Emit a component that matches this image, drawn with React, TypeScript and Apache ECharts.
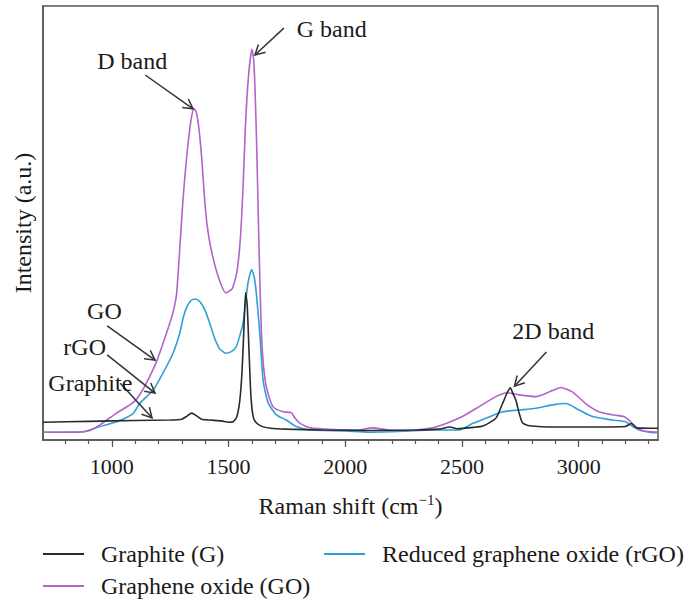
import React, { useEffect, useRef } from 'react';
import * as echarts from 'echarts';

const FONT = '"Liberation Serif", "Times New Roman", serif';

// Raman shift (cm^-1), intensity (a.u., 0-100 scale)
const graphite: [number, number][] = [
  [705, 4.1], [900, 4.3], [1100, 4.5], [1250, 4.6], [1300, 4.8], [1322, 5.5], [1342, 6.2],
  [1362, 5.6], [1385, 4.8], [1420, 4.6], [1470, 4.4], [1500, 4.1], [1520, 4.2], [1535, 5.3],
  [1548, 9], [1558, 16], [1566, 26], [1573, 34], [1580, 31], [1588, 20], [1596, 10],
  [1605, 5.5], [1615, 4.2], [1640, 3.2], [1680, 2.7], [1750, 2.5], [1900, 2.3], [2100, 2.2],
  [2300, 2.3], [2400, 2.5], [2447, 3.0], [2480, 2.6], [2550, 2.9], [2590, 3.2], [2645, 5.0],
  [2674, 8.4], [2695, 11], [2707, 12], [2720, 10.5], [2731, 9.2], [2745, 6.2], [2760, 3.9],
  [2790, 3.3], [2900, 3.0], [3100, 3.0], [3200, 3.1], [3225, 3.8], [3250, 2.8], [3340, 2.7],
];

const grapheneOxide: [number, number][] = [
  [705, 1.8], [850, 1.8], [906, 2.2], [949, 3.5], [1020, 6.2], [1091, 8.6], [1120, 10.5],
  [1148, 13.1], [1191, 18.0], [1234, 24.6], [1260, 29], [1277, 33.5], [1292, 45],
  [1303, 54], [1315, 62], [1328, 69], [1340, 74], [1352, 76.3], [1362, 75.5], [1373, 71.8],
  [1385, 65], [1396, 56.5], [1408, 49.5], [1425, 44], [1456, 37.6], [1488, 33.9],
  [1515, 34.8], [1535, 38.5], [1550, 46], [1562, 58], [1572, 72], [1585, 83.5], [1600, 90], [1607, 88],
  [1612, 83], [1619, 71], [1626, 55], [1629, 48], [1635, 35], [1641, 24.6], [1650, 16.9],
  [1662, 12.3], [1690, 7.7], [1733, 6.5], [1769, 6.3], [1785, 5], [1805, 3.9], [1850, 2.8],
  [1950, 2.4], [2050, 2.3], [2118, 2.8], [2200, 2.2], [2300, 2.3], [2373, 2.8], [2432, 3.8],
  [2502, 5.4], [2574, 7.7], [2645, 10.0], [2695, 10.9], [2745, 10.4], [2817, 10.0],
  [2888, 11.4], [2923, 12.1], [2973, 11.1], [3030, 8.4], [3087, 6.5], [3144, 5.8],
  [3194, 5.4], [3223, 4.2], [3259, 2.3], [3340, 1.8],
];

const reducedGO: [number, number][] = [
  [705, 1.8], [877, 1.9], [949, 3.1], [1020, 4.2], [1091, 6.1], [1120, 8.5], [1177, 11.5],
  [1219, 15.4], [1262, 20.0], [1291, 24.6], [1305, 28], [1320, 30.5], [1340, 32.2],
  [1360, 32.5], [1380, 31.7], [1400, 29.8], [1420, 26.8], [1440, 23.5], [1462, 21],
  [1488, 20.0], [1510, 20.3], [1533, 21.5], [1562, 26.9], [1583, 36.1], [1599, 39.3],
  [1610, 37.5], [1619, 33.8], [1634, 24.6], [1648, 13.8], [1670, 8.5], [1705, 5.8],
  [1747, 4.6], [1790, 3.1], [1850, 2.3], [2000, 2.1], [2100, 1.8], [2250, 2.0], [2368, 2.3],
  [2488, 2.3], [2545, 3.8], [2602, 5.0], [2674, 6.5], [2745, 6.9], [2817, 7.3], [2888, 8.1],
  [2945, 8.4], [3002, 6.9], [3059, 5.4], [3144, 4.6], [3201, 4.2], [3244, 2.7], [3316, 1.7],
  [3340, 1.7],
];

const majorTicks = [1000, 1500, 2000, 2500, 3000];
const minorTicks = [
  800, 900, 1000, 1100, 1200, 1300, 1400, 1500, 1600, 1700, 1800, 1900, 2000, 2100, 2200,
  2300, 2400, 2500, 2600, 2700, 2800, 2900, 3000, 3100, 3200, 3300,
];

const seriesNames = ['Graphite (G)', 'Graphene oxide (GO)', 'Reduced graphene oxide (rGO)'];
const seriesColors = ['#2a2a2a', '#b264c8', '#2f9fd8'];

// annotations: label, arrow start (x,y), arrow tip (x,y), text left/middle anchor (x,y)
const annotationLabels = ['D band', 'G band', '2D band', 'GO', 'rGO', 'Graphite'];
const annotationArrows: number[][] = [
  [1143, 84.1, 1348, 76.3],
  [1737, 94.9, 1613, 88.7],
  [2862, 20.3, 2725, 12.4],
  [980, 26.3, 1185, 18.4],
  [980, 19.6, 1185, 10.8],
  [1036, 13.1, 1172, 5.1],
];
const annotationTextPos: number[][] = [
  [937, 87.3],
  [1792, 94.7],
  [2716, 25.1],
  [894, 29.7],
  [792, 21.4],
  [728, 13.1],
];

export default function App() {
  const ref = useRef<HTMLDivElement>(null);

  useEffect(() => {
    if (!ref.current) return;
    const chart = echarts.init(ref.current, undefined, { renderer: 'svg' });
    const axisColor = '#555';
    const textColor = '#1a1a1a';

    const legendCommon = {
      orient: 'horizontal',
      icon: 'rect',
      itemWidth: 41,
      itemHeight: 2,
      padding: 0,
      selectedMode: false,
      textStyle: { fontFamily: FONT, fontSize: 24, color: textColor, padding: [0, 0, 0, 12] },
    };

    const annData = annotationArrows.map((a, i) => [...a, ...annotationTextPos[i]]);

    chart.setOption({
      animation: false,
      backgroundColor: '#fff',
      grid: {
        left: 43,
        right: 38,
        top: 6,
        bottom: 161,
        show: true,
        borderColor: axisColor,
        borderWidth: 1.5,
        backgroundColor: 'transparent',
      },
      legend: [
        { ...legendCommon, data: [seriesNames[0]], left: 43, top: 542 },
        { ...legendCommon, data: [seriesNames[1]], left: 43, top: 574 },
        { ...legendCommon, data: [seriesNames[2]], left: 324, top: 542 },
      ],
      xAxis: [
        {
          type: 'value',
          min: 705,
          max: 3340,
          position: 'bottom',
          axisLine: { show: true, lineStyle: { color: axisColor, width: 1.5 } },
          axisTick: { show: true, customValues: minorTicks, length: 4, lineStyle: { color: axisColor, width: 1.2 } },
          axisLabel: {
            customValues: majorTicks,
            formatter: (v: number) => String(v),
            margin: 15,
            fontFamily: FONT,
            fontSize: 22,
            color: textColor,
          },
          splitLine: { show: false },
          name: '{a|Raman shift (cm}{s|\u22121}{a|)}',
          nameLocation: 'middle',
          nameGap: 52,
          nameTextStyle: {
            rich: {
              a: { fontFamily: FONT, fontSize: 24, color: textColor, lineHeight: 28 },
              s: { fontFamily: FONT, fontSize: 15, color: textColor, lineHeight: 15, verticalAlign: 'top' },
            },
          },
        },
        {
          type: 'value',
          min: 705,
          max: 3340,
          position: 'bottom',
          axisLine: { show: false },
          axisTick: { show: true, customValues: majorTicks, length: 7, lineStyle: { color: axisColor, width: 1.2 } },
          axisLabel: { show: false },
          splitLine: { show: false },
        },
      ],
      yAxis: {
        type: 'value',
        min: 0,
        max: 100,
        axisLine: { show: true, lineStyle: { color: axisColor, width: 1.5 } },
        axisTick: { show: false },
        axisLabel: { show: false },
        splitLine: { show: false },
        name: 'Intensity (a.u.)',
        nameLocation: 'middle',
        nameGap: 8,
        nameTextStyle: { fontFamily: FONT, fontSize: 24, color: textColor },
      },
      series: [
        ...[graphite, grapheneOxide, reducedGO].map((d, i) => ({
          name: seriesNames[i],
          type: 'line',
          data: d,
          symbol: 'none',
          smooth: 0.2,
          lineStyle: { color: seriesColors[i], width: 1.6 },
          itemStyle: { color: seriesColors[i] },
          z: 3 - i,
        })),
        {
          type: 'custom',
          coordinateSystem: 'cartesian2d',
          silent: true,
          z: 10,
          data: annData,
          encode: { x: [0, 2, 4], y: [1, 3, 5] },
          renderItem: (params: any, api: any) => {
            const p1 = api.coord([api.value(0), api.value(1)]);
            const p2 = api.coord([api.value(2), api.value(3)]);
            const t = api.coord([api.value(4), api.value(5)]);
            const dx = p2[0] - p1[0];
            const dy = p2[1] - p1[1];
            const len = Math.hypot(dx, dy) || 1;
            const ux = dx / len;
            const uy = dy / len;
            const L = 11;
            const a = 0.5;
            const c = Math.cos(a);
            const s = Math.sin(a);
            const h1 = [p2[0] - L * (ux * c - uy * s), p2[1] - L * (uy * c + ux * s)];
            const h2 = [p2[0] - L * (ux * c + uy * s), p2[1] - L * (uy * c - ux * s)];
            return {
              type: 'group',
              children: [
                { type: 'line', shape: { x1: p1[0], y1: p1[1], x2: p2[0], y2: p2[1] }, style: { stroke: '#333', lineWidth: 1.5 } },
                { type: 'polyline', shape: { points: [h1, p2, h2] }, style: { stroke: '#333', lineWidth: 1.5, fill: 'none' } },
                {
                  type: 'text',
                  x: t[0],
                  y: t[1],
                  style: {
                    text: annotationLabels[params.dataIndex],
                    font: `24px ${FONT}`,
                    fill: textColor,
                    align: 'left',
                    verticalAlign: 'middle',
                  },
                },
              ],
            };
          },
        },
      ],
    });

    return () => chart.dispose();
  }, []);

  return (
    <div
      ref={ref}
      style={{ position: 'absolute', left: 0, top: 0, width: 696, height: 601, background: '#fff' }}
    />
  );
}
